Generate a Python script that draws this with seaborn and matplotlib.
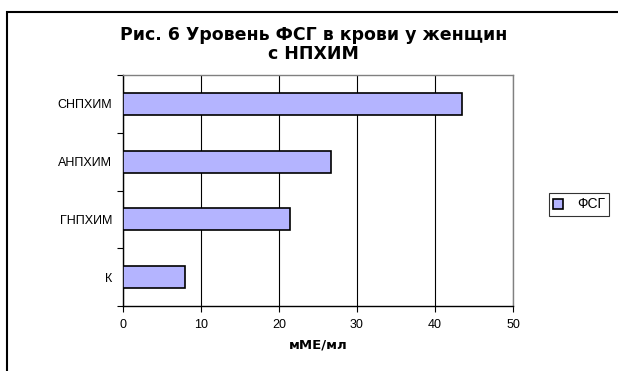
import matplotlib
matplotlib.use("Agg")
import matplotlib.pyplot as plt
import matplotlib.patches as mpatches
import numpy as np
import pandas as pd
import seaborn as sns

# values (mME/ml)
categories = ["СНПХИМ", "АНПХИМ", "ГНПХИМ", "К"]
fsh_values = [43.5, 26.7, 21.4, 8.0]
series_name = "ФСГ"
x_ticks = [0, 10, 20, 30, 40, 50]

BAR_COLOR = "#B4B4FF"
BOLD_FONT = ["DejaVu Sans"]


def main() -> None:
	sns.set_style("white")
	plt.rcParams["font.family"] = ["Liberation Sans", "DejaVu Sans"]
	plt.rcParams["text.color"] = "black"
	plt.rcParams["xtick.color"] = "black"
	plt.rcParams["ytick.color"] = "black"
	plt.rcParams["axes.labelcolor"] = "black"

	df = pd.DataFrame(
		{"group": categories, "value": fsh_values, "series": [series_name] * len(categories)}
	)

	fig = plt.figure(figsize=(6.18, 3.71), dpi=100)
	ax = fig.add_axes([123 / 618, 1 - 306 / 371, 390 / 618, 231 / 371])

	sns.barplot(
		data=df,
		x="value",
		y="group",
		hue="series",
		order=categories,
		palette=[BAR_COLOR],
		orient="h",
		width=0.38,
		edgecolor="black",
		linewidth=1.2,
		saturation=1,
		ax=ax,
		zorder=3,
	)

	ax.set_xlim(0, 50)
	ax.set_ylim(len(categories) - 0.5, -0.5)
	ax.set_xticks(x_ticks)
	ax.set_xticklabels([str(t) for t in x_ticks], fontsize=9)
	ax.xaxis.grid(True, color="black", linewidth=0.8, zorder=0)
	ax.set_axisbelow(True)

	ax.tick_params(axis="x", direction="out", length=4, width=0.8, color="black", pad=5, bottom=True)
	ax.tick_params(axis="y", which="major", length=0, pad=8, labelsize=9)
	ax.set_yticks(np.arange(-0.5, len(categories), 1.0), minor=True)
	ax.tick_params(axis="y", which="minor", direction="out", length=4, width=0.8, color="black", left=True)

	for side in ["left", "bottom"]:
		ax.spines[side].set_color("black")
		ax.spines[side].set_linewidth(1.0)
	for side in ["top", "right"]:
		ax.spines[side].set_visible(True)
		ax.spines[side].set_color("#808080")
		ax.spines[side].set_linewidth(1.0)

	ax.set_ylabel("")
	ax.set_xlabel("мМЕ/мл", fontsize=9.5, fontweight="bold", family=BOLD_FONT, labelpad=6)

	fig.text(
		314 / 618, 1 - 35 / 371, "Рис. 6 Уровень ФСГ в крови у женщин",
		ha="center", va="center", fontsize=12.5, fontweight="bold", family=BOLD_FONT,
	)
	fig.text(
		313 / 618, 1 - 54 / 371, "с НПХИМ",
		ha="center", va="center", fontsize=12.5, fontweight="bold", family=BOLD_FONT,
	)

	leg = ax.legend(
		loc="center left",
		bbox_to_anchor=(549 / 618, 1 - 204.5 / 371),
		bbox_transform=fig.transFigure,
		frameon=True,
		fancybox=False,
		edgecolor="black",
		fontsize=10,
		handlelength=0.7,
		handleheight=0.7,
		handletextpad=1.0,
		borderpad=0.3,
		borderaxespad=0,
	)
	leg.get_frame().set_linewidth(0.8)

	# outer chart-area border, runs off the right and bottom edges
	fig.add_artist(
		mpatches.Rectangle(
			(7 / 618, -0.1), 1.2, 1 - 12 / 371 + 0.1,
			transform=fig.transFigure, fill=False, edgecolor="black", linewidth=1.5,
		)
	)

	fig.savefig("out.png", dpi=100)


if __name__ == "__main__":
	main()
